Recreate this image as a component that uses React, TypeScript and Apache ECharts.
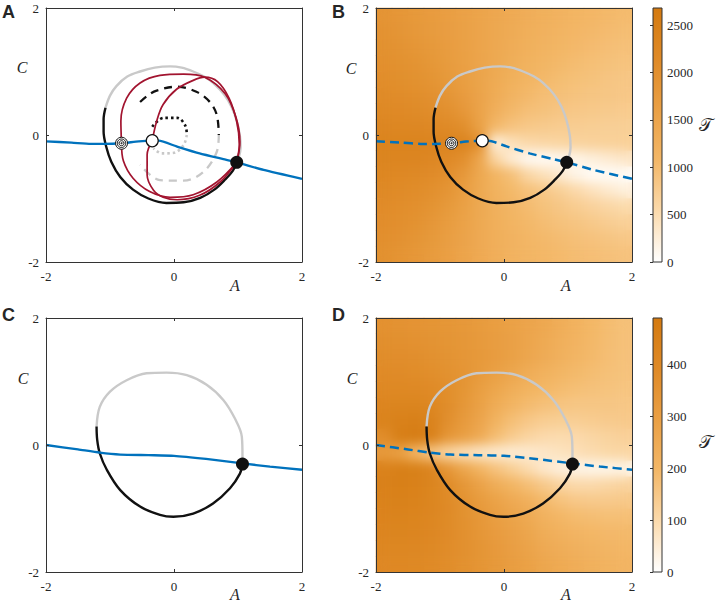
import React, { useEffect, useRef } from "react";
import * as echarts from "echarts";

// ---------- data ----------
const axisRange = [-2, 2];
const tauMaxB = 2680;
const tauMaxD = 490;
const tauStepB = 500;
const tauStepD = 100;

// Panels A & B: trajectories
const blueAB: number[][] = [[-2, -0.1], [-1.6, -0.12], [-1.3, -0.14], [-1.1, -0.14], [-0.82, -0.13], [-0.55, -0.1], [-0.34, -0.09], [-0.24, -0.09], [0.04, -0.18], [0.4, -0.29], [0.77, -0.38], [0.98, -0.43], [1.4, -0.55], [2.0, -0.69]];
const cycleGrayAB: number[][] = [[-1.07, 0.43], [-1.0, 0.62], [-0.9, 0.77], [-0.73, 0.92], [-0.53, 1.0], [-0.3, 1.06], [-0.06, 1.08], [0.12, 1.06], [0.3, 1.0], [0.47, 0.92], [0.61, 0.82], [0.78, 0.64], [0.9, 0.44], [0.98, 0.22], [1.03, -0.02], [1.04, -0.2], [1.01, -0.36], [0.98, -0.43]];
const cycleBlackAB: number[][] = [[-1.07, 0.43], [-1.1, 0.25], [-1.1, 0.05], [-1.06, -0.18], [-0.98, -0.42], [-0.84, -0.66], [-0.64, -0.86], [-0.4, -1.0], [-0.12, -1.07], [0.15, -1.06], [0.41, -0.99], [0.63, -0.86], [0.8, -0.7], [0.92, -0.56], [0.98, -0.43]];
const redOuterUp: number[][] = [[-0.82, -0.13], [-0.83, 0.22], [-0.74, 0.58], [-0.53, 0.82], [-0.22, 0.94], [0.15, 0.96], [0.48, 0.91], [0.8, 0.65], [0.97, 0.27], [1.03, -0.11], [0.98, -0.43]];
const redOuterDown: number[][] = [[-0.82, -0.13], [-0.79, -0.41], [-0.64, -0.68], [-0.38, -0.89], [-0.06, -0.98], [0.3, -0.94], [0.67, -0.74], [0.98, -0.43]];
const redInnerUp: number[][] = [[-0.34, -0.09], [-0.27, 0.22], [-0.17, 0.48], [0.04, 0.72], [0.3, 0.86], [0.48, 0.91], [0.68, 0.84], [0.86, 0.58], [0.98, 0.21], [1.02, -0.15], [0.98, -0.43]];
const redInnerDown: number[][] = [[-0.34, -0.09], [-0.42, -0.31], [-0.42, -0.63], [-0.32, -0.87], [-0.17, -0.98], [0.05, -1.02], [0.4, -0.95], [0.72, -0.74], [0.98, -0.43]];
const dashedTopA: number[][] = [[-0.53, 0.52], [-0.4, 0.63], [-0.27, 0.7], [0.04, 0.76], [0.35, 0.68], [0.56, 0.52], [0.67, 0.31], [0.7, 0.0]];
const dashedBottomA: number[][] = [[0.7, 0.0], [0.67, -0.26], [0.46, -0.58], [0.15, -0.72], [-0.22, -0.71], [-0.53, -0.47]];
const dottedTopA: number[][] = [[-0.34, 0.13], [-0.16, 0.27], [0.05, 0.27], [0.18, 0.14], [0.2, 0.0]];
const dottedBottomA: number[][] = [[0.2, 0.0], [0.15, -0.16], [0.0, -0.28], [-0.19, -0.29], [-0.32, -0.21]];
const ringPoint: number[] = [-0.82, -0.13];
const openPoint: number[] = [-0.34, -0.09];
const dotAB: number[] = [0.98, -0.43];

// Panels C & D: trajectories
const blueCD: number[][] = [[-2, 0.0], [-1.5, -0.07], [-1.16, -0.12], [-0.84, -0.15], [-0.4, -0.16], [0, -0.17], [0.5, -0.22], [1.07, -0.29], [1.5, -0.34], [2, -0.39]];
const cycleGrayCD: number[][] = [[-1.21, 0.29], [-1.16, 0.6], [-1.0, 0.84], [-0.74, 1.02], [-0.43, 1.13], [-0.115, 1.14], [0.2, 1.1], [0.51, 0.95], [0.77, 0.71], [0.95, 0.42], [1.06, 0.13], [1.07, -0.18], [1.07, -0.3]];
const cycleBlackCD: number[][] = [[-1.21, 0.29], [-1.2, 0.08], [-1.16, -0.13], [-1.05, -0.39], [-0.84, -0.71], [-0.53, -0.97], [-0.22, -1.1], [-0.01, -1.13], [0.3, -1.08], [0.61, -0.92], [0.875, -0.68], [1.03, -0.45], [1.07, -0.3]];
const dotCD: number[] = [1.07, -0.3];

// Panel B field (rows top -> bottom, columns left -> right), 16 x 16 cells
const heatB: number[][] = [
  [1900, 1840, 1780, 1720, 1650, 1580, 1510, 1440, 1370, 1300, 1240, 1180, 1130, 1090, 1050, 1015],
  [1940, 1880, 1810, 1740, 1670, 1590, 1510, 1430, 1350, 1270, 1210, 1150, 1095, 1050, 1010, 975],
  [1978, 1935, 1860, 1780, 1700, 1610, 1515, 1415, 1325, 1240, 1165, 1105, 1050, 1005, 965, 935],
  [2019, 1981, 1925, 1835, 1740, 1630, 1515, 1400, 1290, 1195, 1115, 1050, 995, 955, 920, 890],
  [2066, 2028, 1984, 1910, 1790, 1665, 1520, 1375, 1245, 1135, 1050, 985, 940, 910, 870, 840],
  [2122, 2091, 2047, 1988, 1880, 1720, 1530, 1335, 1170, 1050, 965, 935, 895, 865, 845, 825],
  [2184, 2162, 2128, 2078, 2000, 1820, 1545, 1250, 1050, 950, 905, 850, 825, 800, 785, 770],
  [2270, 2255, 2235, 2197, 2147, 2028, 1590, 1050, 885, 815, 780, 750, 735, 720, 710, 705],
  [2345, 2345, 2345, 2340, 2340, 2330, 2012, 230, 450, 560, 600, 620, 650, 670, 680, 690],
  [2315, 2310, 2295, 2240, 2162, 2012, 1480, 600, 270, 80, 60, 110, 150, 230, 300, 370],
  [2250, 2205, 2169, 2112, 2012, 1795, 1430, 1130, 935, 600, 440, 300, 150, 50, 50, 60],
  [2169, 2134, 2084, 2012, 1890, 1675, 1415, 1195, 1045, 920, 830, 710, 560, 430, 320, 230],
  [2112, 2069, 2012, 1935, 1785, 1605, 1405, 1235, 1110, 1005, 910, 840, 750, 670, 600, 540],
  [2059, 2012, 1959, 1845, 1715, 1560, 1400, 1255, 1150, 1060, 980, 905, 860, 800, 740, 690],
  [2012, 1969, 1885, 1780, 1665, 1535, 1395, 1270, 1180, 1100, 1040, 990, 940, 900, 860, 820],
  [1975, 1910, 1825, 1730, 1625, 1510, 1390, 1280, 1180, 1120, 1070, 1030, 990, 960, 930, 900],
];

// Panel D field
const heatD: number[][] = [
  [360, 355, 350, 345, 340, 330, 318, 305, 290, 275, 258, 238, 218, 198, 183, 172],
  [370, 365, 360, 352, 345, 335, 322, 308, 292, 273, 253, 232, 212, 194, 180, 170],
  [380, 377, 372, 362, 352, 340, 326, 310, 290, 268, 246, 225, 206, 190, 177, 168],
  [392, 390, 385, 375, 362, 346, 320, 295, 268, 243, 222, 205, 190, 180, 172, 166],
  [405, 405, 402, 392, 375, 345, 305, 270, 240, 215, 198, 185, 175, 168, 163, 160],
  [420, 425, 425, 412, 380, 335, 290, 245, 210, 185, 170, 160, 155, 155, 155, 152],
  [435, 448, 452, 435, 370, 320, 275, 215, 175, 150, 135, 130, 132, 138, 142, 145],
  [380, 460, 470, 445, 340, 300, 250, 180, 140, 115, 100, 95, 100, 110, 118, 125],
  [320, 290, 200, 150, 110, 85, 65, 55, 50, 55, 65, 75, 85, 95, 105, 110],
  [440, 455, 450, 420, 340, 270, 210, 165, 130, 95, 60, 40, 28, 25, 25, 30],
  [445, 455, 448, 425, 385, 335, 285, 240, 205, 175, 145, 115, 100, 100, 108, 118],
  [440, 445, 440, 422, 392, 355, 318, 285, 255, 228, 190, 165, 150, 145, 145, 148],
  [432, 435, 430, 415, 392, 362, 332, 305, 280, 255, 220, 200, 185, 178, 175, 175],
  [422, 424, 420, 408, 390, 365, 340, 315, 292, 270, 240, 222, 208, 198, 192, 190],
  [412, 413, 410, 400, 385, 365, 345, 323, 302, 282, 255, 240, 225, 213, 205, 200],
  [402, 403, 400, 392, 380, 363, 345, 326, 308, 290, 268, 253, 238, 225, 215, 208],
];

// ---------- styles ----------
const SERIF = "Liberation Serif";
const SANS = '"Liberation Sans", Arial, sans-serif';
const INK = "#262626";
const BLUE = "#0072BD";
const RED = "#A2142F";
const GRAY = "#C9C9C9";
const BLACK = "#111111";
const CMAP = ["#FFFFFF", "#FBDAAC", "#F3B767", "#EAA045", "#DF8A27", "#D47A10"];

const PANEL_W = 256;
const PANEL_H = 254;
const RIGHT_X = 376;
const TOP_Y = 8;
const BOTTOM_Y = 318;

function toHeat(grid: number[][]) {
  const out: number[][] = [];
  grid.forEach((row, r) => row.forEach((v, c) => out.push([c, grid.length - 1 - r, v])));
  return out;
}

// Heat-field option (used twice: a sharp base layer and a softened layer on top)
function buildHeatOption() {
  const grids: any[] = [];
  const xAxes: any[] = [];
  const yAxes: any[] = [];
  const series: any[] = [];
  const visualMaps: any[] = [];
  const add = (top: number, grid: number[][], max: number) => {
    const gi = grids.length;
    grids.push({ left: RIGHT_X, top, width: PANEL_W, height: PANEL_H });
    const cats = grid[0].map((_, i) => String(i));
    xAxes.push({ gridIndex: gi, type: "category", data: cats, show: false });
    yAxes.push({ gridIndex: gi, type: "category", data: cats, show: false });
    const si = series.length;
    series.push({
      type: "heatmap", xAxisIndex: gi, yAxisIndex: gi, data: toHeat(grid),
      itemStyle: { borderWidth: 0 }, emphasis: { disabled: true }, silent: true,
    });
    visualMaps.push({
      type: "continuous", show: false, seriesIndex: si, dimension: 2, min: 0, max,
      inRange: { color: CMAP },
    });
  };
  add(TOP_Y, heatB, tauMaxB);
  add(BOTTOM_Y, heatD, tauMaxD);
  return { animation: false, grid: grids, xAxis: xAxes, yAxis: yAxes, series, visualMap: visualMaps };
}

function buildMainOption() {
  const grids: any[] = [];
  const xAxes: any[] = [];
  const yAxes: any[] = [];
  const series: any[] = [];
  const axLine = { color: "#333333", width: 1 };
  const labelStyle = { fontFamily: SERIF, fontSize: 13, color: INK };

  function mainPanel(left: number, top: number) {
    const gi = grids.length;
    grids.push({ left, top, width: PANEL_W, height: PANEL_H });
    const common = {
      gridIndex: gi, type: "value", min: axisRange[0], max: axisRange[1], interval: 2,
      splitLine: { show: false },
      axisLine: { show: true, onZero: false, lineStyle: axLine },
      axisTick: { show: true, inside: true, length: 3, lineStyle: axLine },
      z: 10,
    };
    const xi = xAxes.length;
    xAxes.push({ ...common, position: "bottom", axisLabel: { ...labelStyle, margin: 8 } });
    xAxes.push({ ...common, position: "top", axisLabel: { show: false } });
    const yi = yAxes.length;
    yAxes.push({ ...common, position: "left", axisLabel: { ...labelStyle, margin: 7 } });
    yAxes.push({ ...common, position: "right", axisLabel: { show: false } });
    return { xi, yi };
  }

  function colorbar(top: number, max: number, step: number) {
    const gi = grids.length;
    const stops = CMAP.map((c, i) => ({ offset: 1 - i / (CMAP.length - 1), color: c })).reverse();
    grids.push({
      left: 653, top, width: 9, height: PANEL_H, show: true,
      borderColor: "#333333", borderWidth: 1,
      backgroundColor: new echarts.graphic.LinearGradient(0, 0, 0, 1, stops),
    });
    xAxes.push({ gridIndex: gi, type: "value", min: 0, max: 1, show: false });
    yAxes.push({
      gridIndex: gi, type: "value", min: 0, max, interval: step, position: "right",
      splitLine: { show: false }, axisLine: { show: false },
      axisTick: { show: true, inside: true, length: 3, lineStyle: axLine },
      axisLabel: { ...labelStyle, margin: 5, showMaxLabel: false, formatter: (v: number) => String(v) },
      z: 10,
    });
  }

  const line = (ax: any, data: number[][], color: string, width: number, type: any = "solid", smooth = 0.35) => {
    series.push({
      type: "line", xAxisIndex: ax.xi, yAxisIndex: ax.yi, data, symbol: "none", smooth,
      lineStyle: { color, width, type, cap: "butt" }, silent: true, z: 3,
    });
  };
  const marker = (ax: any, pt: number[], size: number, fill: string, border = 0) => {
    series.push({
      type: "scatter", xAxisIndex: ax.xi, yAxisIndex: ax.yi, data: [pt], symbol: "circle",
      symbolSize: size, silent: true, z: 5,
      itemStyle: { color: fill, borderColor: BLACK, borderWidth: border, opacity: 1 },
    });
  };
  const ring = (ax: any, pt: number[]) => {
    marker(ax, pt, 12, "#FFFFFF", 1);
    marker(ax, pt, 8.5, "#FFFFFF", 1);
    marker(ax, pt, 5, "#FFFFFF", 1);
    marker(ax, pt, 2, "#333333", 0);
  };

  // Panel A
  const A = mainPanel(46, TOP_Y);
  line(A, dashedTopA, BLACK, 2.3, [8, 6]);
  line(A, dashedBottomA, "#C8C8C8", 2.3, [8, 6]);
  line(A, dottedTopA, BLACK, 2.6, [2.5, 3]);
  line(A, dottedBottomA, "#C8C8C8", 2.6, [2.5, 3]);
  line(A, cycleGrayAB, GRAY, 2.4);
  line(A, cycleBlackAB, BLACK, 2.4);
  line(A, redOuterUp, RED, 1.7);
  line(A, redOuterDown, RED, 1.7);
  line(A, redInnerUp, RED, 1.7);
  line(A, redInnerDown, RED, 1.7);
  line(A, blueAB, BLUE, 2.3, "solid", 0.2);
  ring(A, ringPoint);
  marker(A, openPoint, 12, "#FFFFFF", 1.2);
  marker(A, dotAB, 13, BLACK);

  // Panel B
  const B = mainPanel(RIGHT_X, TOP_Y);
  line(B, cycleGrayAB, GRAY, 2.4);
  line(B, cycleBlackAB, BLACK, 2.4);
  line(B, blueAB, BLUE, 2.5, [9, 5], 0.2);
  ring(B, ringPoint);
  marker(B, openPoint, 12, "#FFFFFF", 1.2);
  marker(B, dotAB, 13, BLACK);

  // Panel C
  const C = mainPanel(46, BOTTOM_Y);
  line(C, cycleGrayCD, GRAY, 2.4);
  line(C, cycleBlackCD, BLACK, 2.4);
  line(C, blueCD, BLUE, 2.3, "solid", 0.2);
  marker(C, dotCD, 13, BLACK);

  // Panel D
  const D = mainPanel(RIGHT_X, BOTTOM_Y);
  line(D, cycleGrayCD, GRAY, 2.4);
  line(D, cycleBlackCD, BLACK, 2.4);
  line(D, blueCD, BLUE, 2.5, [9, 5], 0.2);
  marker(D, dotCD, 13, BLACK);

  colorbar(TOP_Y, tauMaxB, tauStepB);
  colorbar(BOTTOM_Y, tauMaxD, tauStepD);

  const txt = (text: string, x: number, y: number, font: string, align = "center") => ({
    type: "text", x, y, z: 100, silent: true,
    style: { text, font, fill: INK, textAlign: align, textVerticalAlign: "middle", align, verticalAlign: "middle" },
  });
  const panelFont = `bold 18px ${SANS}`;
  const axisFont = `italic 16px "Liberation Serif", serif`;
  const tauFont = `18px "DejaVu Serif", "DejaVu Sans", serif`;
  const graphic = [
    txt("A", 2, 12, panelFont, "left"),
    txt("B", 332, 12, panelFont, "left"),
    txt("C", 2, 315, panelFont, "left"),
    txt("D", 332, 315, panelFont, "left"),
    txt("A", 235, 285, axisFont),
    txt("A", 566, 285, axisFont),
    txt("A", 235, 594, axisFont),
    txt("A", 566, 594, axisFont),
    txt("C", 22, 67, axisFont),
    txt("C", 351, 68, axisFont),
    txt("C", 23, 378, axisFont),
    txt("C", 352, 378, axisFont),
    txt("\u{1D4AF}", 706, 124, tauFont),
    txt("\u{1D4AF}", 706, 441, tauFont),
  ];

  return {
    animation: false,
    backgroundColor: "transparent",
    grid: grids,
    xAxis: xAxes,
    yAxis: yAxes,
    series,
    graphic,
  };
}

const layer: React.CSSProperties = { position: "absolute", left: 0, top: 0, width: 720, height: 601 };
const clip = `path('M${RIGHT_X} ${TOP_Y}H${RIGHT_X + PANEL_W}V${TOP_Y + PANEL_H}H${RIGHT_X}Z M${RIGHT_X} ${BOTTOM_Y}H${RIGHT_X + PANEL_W}V${BOTTOM_Y + PANEL_H}H${RIGHT_X}Z')`;

export default function App() {
  const baseRef = useRef<HTMLDivElement>(null);
  const softRef = useRef<HTMLDivElement>(null);
  const mainRef = useRef<HTMLDivElement>(null);
  useEffect(() => {
    if (!baseRef.current || !softRef.current || !mainRef.current) return;
    const base = echarts.init(baseRef.current, undefined, { renderer: "svg" });
    base.setOption(buildHeatOption() as any);
    const soft = echarts.init(softRef.current, undefined, { renderer: "svg" });
    soft.setOption(buildHeatOption() as any);
    const main = echarts.init(mainRef.current, undefined, { renderer: "svg" });
    main.setOption(buildMainOption() as any);
    return () => {
      base.dispose();
      soft.dispose();
      main.dispose();
    };
  }, []);
  return (
    <div style={{ position: "fixed", left: 0, top: 0, width: 720, height: 601, background: "#FFFFFF" }}>
      <div ref={baseRef} style={layer} />
      <div style={{ ...layer, clipPath: clip }}>
        <div ref={softRef} style={{ ...layer, filter: "blur(6px)" }} />
      </div>
      <div ref={mainRef} style={layer} />
    </div>
  );
}
